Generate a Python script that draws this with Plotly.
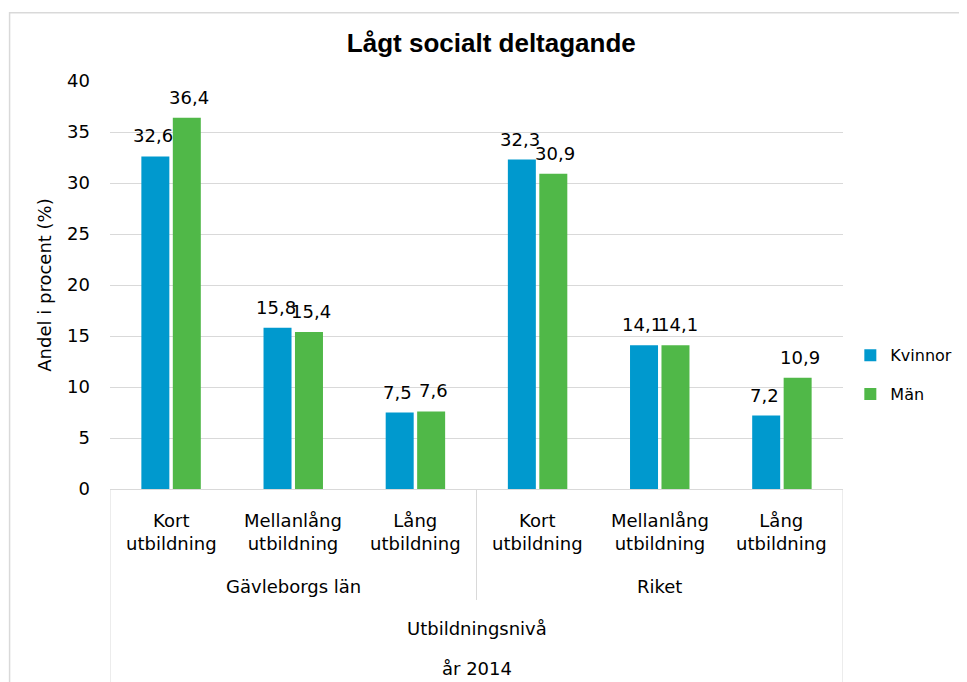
import plotly.graph_objects as go

# data
categories = ["Kort<br>utbildning", "Mellanlång<br>utbildning", "Lång<br>utbildning",
              "Kort<br>utbildning", "Mellanlång<br>utbildning", "Lång<br>utbildning"]
groups = ["Gävleborgs län", "Riket"]
kvinnor = [32.6, 15.8, 7.5, 32.3, 14.1, 7.2]
man = [36.4, 15.4, 7.6, 30.9, 14.1, 10.9]

BLUE = "#0099CE"
GREEN = "#50B848"
GRID = "#d9d9d9"
FONT = "DejaVu Sans"
FS = 18

xpos = list(range(len(categories)))

fig = go.Figure()
fig.add_trace(go.Bar(x=xpos, y=kvinnor, name="Kvinnor", marker_color=BLUE,
                     marker_line_width=0, legendgroup="k"))
fig.add_trace(go.Bar(x=xpos, y=man, name="Män", marker_color=GREEN,
                     marker_line_width=0, legendgroup="m"))

def fmt(v):
    return f"{v:.1f}".replace(".", ",")

txt = dict(family=FONT, size=FS, color="#000000")
ann = []
# data labels above bars
for series, shift in ((kvinnor, -17.75), (man, 17.75)):
    for i, v in enumerate(series):
        ann.append(dict(x=i, y=v, xref="x", yref="y", text=fmt(v), showarrow=False,
                        xshift=shift, yshift=8, yanchor="bottom", font=txt))

# category labels
for i, c in enumerate(categories):
    ann.append(dict(x=i, y=-0.105, xref="x", yref="paper", text=c, showarrow=False,
                    yanchor="middle", font=txt))

# group labels
n = len(categories) // len(groups)
for g, name in enumerate(groups):
    ann.append(dict(x=g * n + (n - 1) / 2, y=-0.238, xref="x", yref="paper", text=name,
                    showarrow=False, yanchor="middle", font=txt))

ann.append(dict(x=0.5, y=-0.341, xref="paper", yref="paper", text="Utbildningsnivå",
                showarrow=False, yanchor="middle", font=txt))
ann.append(dict(x=0.5, y=-0.439, xref="paper", yref="paper", text="år 2014",
                showarrow=False, yanchor="middle", font=txt))

shapes = [
    dict(type="line", xref="x", yref="paper", x0=-0.5, x1=-0.5, y0=0, y1=-0.6,
         line=dict(color=GRID, width=1)),
    dict(type="line", xref="x", yref="paper", x0=2.5, x1=2.5, y0=0, y1=-0.272,
         line=dict(color=GRID, width=1)),
    dict(type="line", xref="x", yref="paper", x0=5.5, x1=5.5, y0=0, y1=-0.6,
         line=dict(color=GRID, width=1)),
    # outer chart frame
    dict(type="rect", xref="paper", yref="paper", x0=-0.137, x1=1.2, y0=1.167, y1=-0.6,
         line=dict(color=GRID, width=1.5)),
]

fig.update_layout(
    width=959, height=674,
    margin=dict(l=102, r=124, t=73, b=193, autoexpand=False),
    paper_bgcolor="white", plot_bgcolor="white",
    title=dict(text="<b>Lågt socialt deltagande</b>", x=0.504, xref="container",
               y=0.948, yanchor="middle", xanchor="center",
               font=dict(family="Liberation Sans", size=26, color="#000000")),
    barmode="group", bargap=0.485, bargroupgap=0.11,
    showlegend=True,
    legend=dict(x=1.01, xanchor="left", y=0.28, yanchor="middle",
                font=dict(family=FONT, size=16, color="#000000"),
                tracegroupgap=15, traceorder="grouped", bgcolor="rgba(0,0,0,0)"),
    xaxis=dict(range=[-0.5, 5.5], showticklabels=False, showgrid=False, zeroline=False,
               showline=True, linecolor=GRID, linewidth=1, ticks="", automargin=False),
    yaxis=dict(range=[0, 40], dtick=5, showgrid=True, gridcolor=GRID, gridwidth=1,
               zeroline=False, showline=False, ticks="", automargin=False,
               ticklabelstandoff=19, tickfont=txt,
               title=dict(text="Andel i procent (%)", standoff=10, font=txt)),
    annotations=ann,
    shapes=shapes,
)

fig.write_html("out.html")
